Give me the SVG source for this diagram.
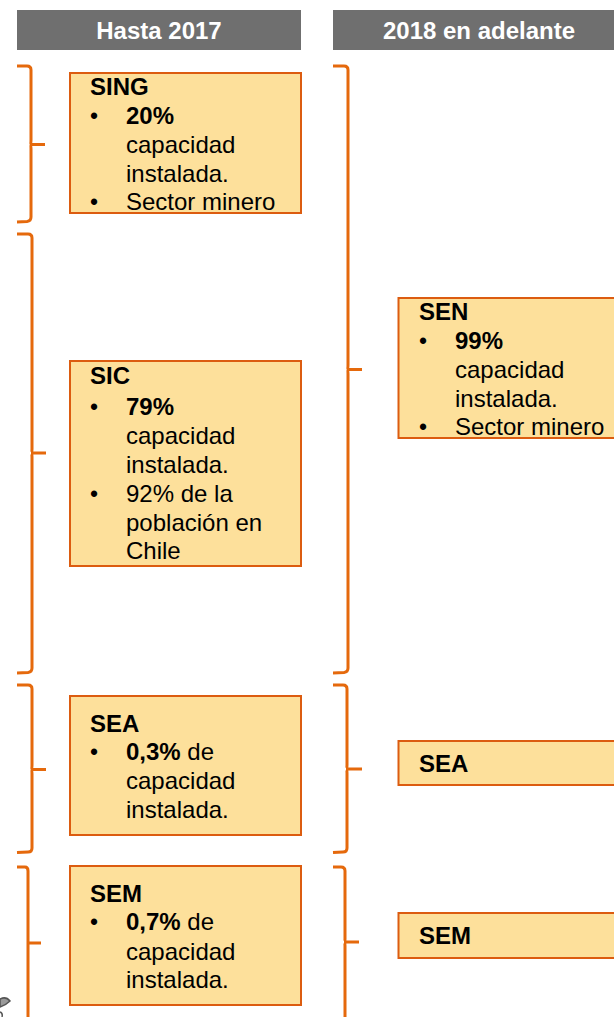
<svg xmlns="http://www.w3.org/2000/svg" width="614" height="1017" viewBox="0 0 614 1017">
<style>
text{font-family:"Liberation Sans",Arial,sans-serif;font-size:24px;fill:#000}
.b{font-weight:bold}
.d{font-size:23px}
.h{font-weight:bold;fill:#fff;text-anchor:middle}
.box{fill:#fde09b;stroke:#dc5c10;stroke-width:2}
.hd{fill:#6f6f6f}
.br{fill:none;stroke:#e5690c;stroke-width:3}
</style>
<g id="header-1"><rect class="hd" x="17" y="10" width="284" height="40"/><text class="h" x="159" y="39">Hasta 2017</text></g>
<g id="header-2"><rect class="hd" x="333" y="10" width="281" height="40"/><text class="h" x="479" y="39">2018 en adelante</text></g>
<g id="connectors">
<path class="br" d="M17 66H27Q31 66 31 70V140Q31 144 30 144.500H45M30 144.500Q31 145 31 149V217Q31 221 27 221.500L17 222"/>
<path class="br" d="M17 234H28Q32 234 32 238V449Q32 453 31 453H46M31 453Q32 453 32 457V668Q32 672 28 672.500L17 673"/>
<path class="br" d="M17 685H28Q32 685 32 689V765Q32 769 31 769.500H46M31 769.500Q32 770 32 774V848Q32 852 28 852L17 852.500"/>
<path class="br" d="M17 867H25Q28 867 28 871V939Q28 943 28 943H41M28 943V1017"/>
<path class="br" d="M333 66H344Q348 66 348 70V365Q348 369 347 369.500H362M347 369.500Q348 370 348 374V668Q348 672 344 672.500L333 673"/>
<path class="br" d="M333 685H343Q347 685 347 689V765Q347 769 346 769H362M346 769Q347 769 347 773V848Q347 852 343 852L333 852.500"/>
<path class="br" d="M333 867H341Q345 867 345 871V939Q345 942 344 942H359M344 942Q345 942 345 946V1017"/>
</g>
<path id="scrap" d="M0 999Q6 996 10 1001Q6 1005 0 1007Z" fill="#9a9a9a" stroke="#555" stroke-width="1.500"/>
<path d="M0 1012Q3 1013 2 1017" fill="none" stroke="#555" stroke-width="1.500"/>
<g id="sing"><rect class="box" x="70" y="73" width="231" height="140"/>
<text class="b" x="90" y="95">SING</text><text class="d" x="90" y="124">•</text><text class="b" x="126" y="124">20%</text><text x="126" y="153">capacidad</text><text x="126" y="182">instalada.</text><text class="d" x="90" y="210">•</text><text x="126" y="210">Sector minero</text></g>
<g id="sic"><rect class="box" x="70" y="361" width="231" height="205"/>
<text class="b" x="90" y="384">SIC</text><text class="d" x="90" y="415">•</text><text class="b" x="126" y="415">79%</text><text x="126" y="444">capacidad</text><text x="126" y="473">instalada.</text><text class="d" x="90" y="502">•</text><text x="126" y="502">92% de la</text><text x="126" y="531">población en</text><text x="126" y="559">Chile</text></g>
<g id="sea-1"><rect class="box" x="70" y="696" width="231" height="139"/>
<text class="b" x="90" y="732">SEA</text><text class="d" x="90" y="760">•</text><text x="126" y="760"><tspan class="b">0,3%</tspan> de</text><text x="126" y="789">capacidad</text><text x="126" y="818">instalada.</text></g>
<g id="sem-1"><rect class="box" x="70" y="866" width="231" height="139"/>
<text class="b" x="90" y="902">SEM</text><text class="d" x="90" y="930">•</text><text x="126" y="930"><tspan class="b">0,7%</tspan> de</text><text x="126" y="960">capacidad</text><text x="126" y="988">instalada.</text></g>
<g id="sen"><rect class="box" x="398.500" y="298" width="218" height="140"/>
<text class="b" x="419" y="320">SEN</text><text class="d" x="419" y="349">•</text><text class="b" x="455" y="349">99%</text><text x="455" y="378">capacidad</text><text x="455" y="407">instalada.</text><text class="d" x="419" y="435">•</text><text x="455" y="435">Sector minero</text></g>
<g id="sea-2"><rect class="box" x="398.500" y="741" width="218" height="44"/><text class="b" x="419" y="772">SEA</text></g>
<g id="sem-2"><rect class="box" x="398.500" y="913" width="218" height="45"/><text class="b" x="419" y="944">SEM</text></g>
</svg>
